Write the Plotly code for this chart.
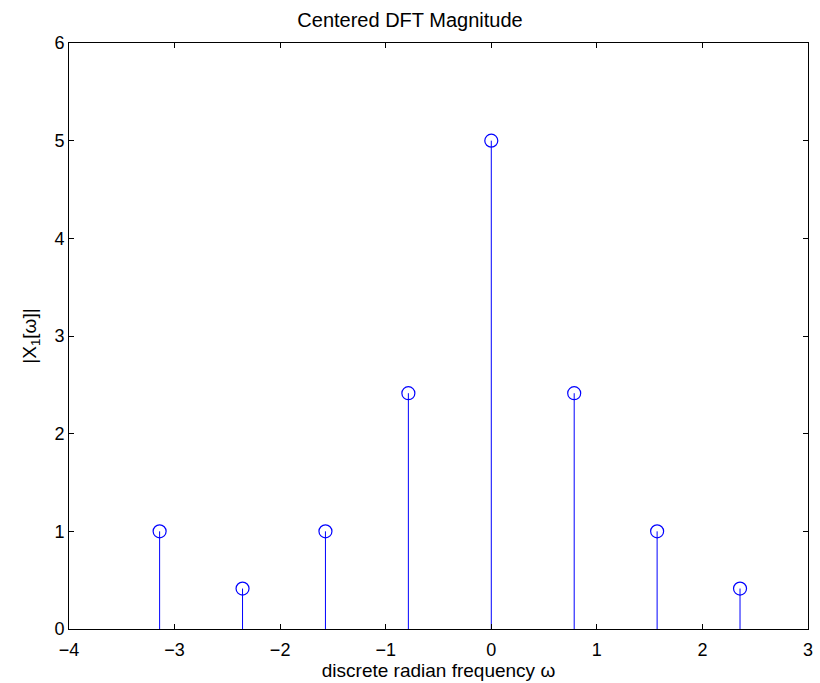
import numpy as np
import plotly.graph_objects as go

omega = [-3.1416, -2.3562, -1.5708, -0.7854, 0.0, 0.7854, 1.5708, 2.3562]
magnitude = [1.0, 0.4142, 1.0, 2.4142, 5.0, 2.4142, 1.0, 0.4142]
x_ticks = [-4, -3, -2, -1, 0, 1, 2, 3]
y_ticks = [0, 1, 2, 3, 4, 5, 6]

stem_x, stem_y = [], []
for w, m in zip(omega, magnitude):
    stem_x += [w, w, None]
    stem_y += [0, m, None]

fig = go.Figure()
fig.add_trace(go.Scatter(x=stem_x, y=stem_y, mode="lines",
                         line=dict(color="#0000ff", width=1), hoverinfo="skip"))
fig.add_trace(go.Scatter(x=omega, y=magnitude, mode="markers",
                         marker=dict(symbol="circle-open", size=13,
                                     color="#0000ff", line=dict(width=1.2))))

axis_common = dict(showgrid=False, zeroline=False, showline=True, linecolor="black",
                   linewidth=1, mirror="ticks", ticks="inside", ticklen=5,
                   tickcolor="black", tickfont=dict(size=18, color="black"))

fig.update_layout(
    width=820, height=683,
    margin=dict(l=69, r=7, t=43, b=54),
    paper_bgcolor="white", plot_bgcolor="white",
    showlegend=False,
    font=dict(family="Liberation Sans, Arial, sans-serif", color="black"),
    title=dict(text="Centered DFT Magnitude", x=0.5, xanchor="center",
               y=1 - 20 / 683, yanchor="middle", font=dict(size=20)),
    xaxis=dict(range=[-4, 3], tickvals=x_ticks,
               ticktext=[str(v).replace("-", "\u2212") for v in x_ticks],
               ticklabelstandoff=4,
               title=dict(text="discrete radian frequency \u03c9", font=dict(size=19), standoff=2),
               **axis_common),
    yaxis=dict(range=[0, 6], tickvals=y_ticks, ticklabelstandoff=0,
               title=dict(text="|X<sub>1</sub>[\u03c9]|", font=dict(size=19), standoff=12),
               **axis_common),
)

fig.write_html("out.html")
